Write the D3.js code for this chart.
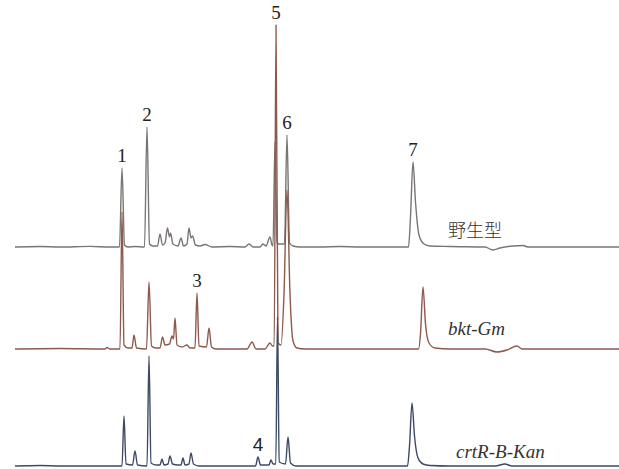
<!DOCTYPE html>
<html>
<head>
<meta charset="utf-8">
<script src="https://cdn.jsdelivr.net/npm/d3@7"></script>
<style>
  body { margin: 0; background: #fff; }
  svg { display: block; }
</style>
</head>
<body>
<div id="chart"></div>
<script>
// retention time (min), signal (mAU)
var wildTypeTrace = [
  [0.5,0],[3,0.5],[5,0],[8,0.6],[10,0],[10.95,0],
  [11.2,79],[11.45,2],[11.8,0],[12.5,0.5],[13.45,0],
  [13.7,120],[13.95,3],[14.3,1],[14.75,1],[15.0,13],[15.25,2],
  [15.5,4],[15.75,19],[15.95,10],[16.05,14],[16.3,3],[16.8,1],
  [17.1,9],[17.35,1],[17.7,3],[17.9,19],[18.1,9],[18.25,11],[18.55,2],
  [19.0,1],[19.5,2.5],[20.2,0],[22,0.5],[23.5,0],[23.9,3],[24.3,0],
  [25,0],[25.3,3],[25.6,1],[26.0,10],[26.2,2],[26.3,1],
  [26.5,105],[26.7,4],[26.9,3],[27.45,3],
  [27.7,112],[27.95,4],[28.3,1],[29,0],[31,0],[33,0.5],[35,0],[39.85,0],
  [40.05,30],[40.3,85],[40.55,45],[40.9,12],[41.4,3],[42,1],[44,0.5],[47.5,0],
  [48.3,-3],[49.0,-1],[50.3,1],[51.3,1.5],[51.8,0],[55,0],[61,0]
];
var bktTrace = [
  [0.5,0],[5,0.5],[9.5,0],[9.7,1.5],[10,0],[11.0,0],
  [11.2,137],[11.4,4],[11.8,1],[12.2,1],[12.4,14],[12.65,1],[13.65,0],
  [13.9,67],[14.15,3],[14.6,1],[15.0,1],[15.25,12],[15.5,4],
  [15.95,5],[16.2,13],[16.35,10],[16.5,31],[16.7,4],[17.2,2],[17.7,4],[18.0,1],[18.5,1],
  [18.7,56],[18.9,3],[19.65,2],[19.9,21],[20.15,2],[20.6,0],[23.7,0],
  [24.2,7],[24.6,0],[25.5,0],[26.0,6],[26.25,3],[26.42,3],
  [26.6,324],[26.8,6],[27.1,4],[27.4,55],
  [27.7,159],[28.0,55],[28.3,8],[28.7,1],[29.5,0],[33,0],[37,0],[40.85,0],
  [41.05,15],[41.3,62],[41.55,25],[41.9,6],[42.5,1],[44,0],[47.5,0],
  [48.7,-3],[49.7,-1],[50.7,3],[51.2,0],[55,0],[61,0]
];
var crtTrace = [
  [0.5,0],[3,0.5],[5,0],[8.5,0],[11.2,0],
  [11.4,50],[11.6,2],[12.25,1],[12.5,15],[12.75,1],[13.7,0],
  [13.9,110],[14.1,3],[14.6,1],[15.0,1],[15.2,7],[15.4,1],
  [15.8,2],[16.0,10],[16.25,2],[16.8,1],[17.1,1],[17.3,8],[17.5,1],
  [17.9,2],[18.1,13],[18.35,2],[18.9,0],[22,0],[24.55,0],
  [24.8,9],[25.05,1],[25.9,1],[26.1,6],[26.3,2],[26.58,2],
  [26.75,149],[26.92,4],[27.55,2],[27.8,29],[28.05,3],[28.6,0],[36,0],[39.75,0],
  [39.95,20],[40.2,63],[40.45,30],[40.8,8],[41.3,2],[42,0.5],[44,0],[48.5,0],
  [49.5,2],[50.2,0],[55,0],[61,0]
];

var seriesNames = ["野生型", "bkt-Gm", "crtR-B-Kan"];
var seriesOffsets = [219, 117, 0];   // vertical stacking of the traces (mAU)
var seriesColors = ["#7a7572", "#8c5a4c", "#3d4966"];

// peak numbers: label, retention time, which trace carries it
var peakLabels = ["1", "2", "3", "4", "5", "6", "7"];
var peakTimes = [11.2, 13.7, 18.7, 24.8, 26.6, 27.7, 40.3];
var peakTrace = [0, 0, 1, 2, 1, 0, 0];

var width = 619
var height = 469

var x = d3.scaleLinear().domain([0, 61]).range([10, 620])
var y = d3.scaleLinear().domain([0, 450]).range([466, 16])

var svg = d3.select("#chart")
  .append("svg")
    .attr("width", width)
    .attr("height", height)

var traces = [wildTypeTrace, bktTrace, crtTrace]

var line = d3.line().curve(d3.curveMonotoneX)

// gray first, then brown, blue on top
traces.forEach(function(tr, i) {
  line.x(function(d) { return x(d[0]) })
      .y(function(d) { return y(d[1] + seriesOffsets[i]) })
  svg.append("path")
    .datum(tr)
    .attr("d", line)
    .attr("fill", "none")
    .attr("stroke", seriesColors[i])
    .attr("stroke-width", 1.4)
    .attr("stroke-linejoin", "round")
})

function valueAt(tr, t) {
  var best = tr[0]
  tr.forEach(function(d) { if (Math.abs(d[0] - t) < Math.abs(best[0] - t)) best = d })
  return best[1]
}

svg.selectAll(".peak")
  .data(peakLabels)
  .enter()
  .append("text")
    .attr("class", "peak")
    .attr("x", function(d, i) { return x(peakTimes[i]) })
    .attr("y", function(d, i) {
      var k = peakTrace[i]
      return y(valueAt(traces[k], peakTimes[i]) + seriesOffsets[k]) - 6
    })
    .attr("text-anchor", "middle")
    .style("font-family", function(d) { return d === "4" ? "'Liberation Sans', Arial, sans-serif" : "'Liberation Serif', 'Times New Roman', serif" })
    .style("font-size", "19px")
    .attr("fill", "#222")
    .text(function(d) { return d })

// trace names
var nameTimes = [43.8, 43.8, 44.6]
var nameLift = [10, 14, 8]
svg.selectAll(".name")
  .data(seriesNames)
  .enter()
  .append("text")
    .attr("class", "name")
    .attr("x", function(d, i) { return x(nameTimes[i]) })
    .attr("y", function(d, i) { return y(seriesOffsets[i] + nameLift[i]) })
    .style("font-family", function(d, i) { return i === 0 ? "'Noto Sans CJK SC', sans-serif" : "'Liberation Serif', 'Times New Roman', serif" })
    .style("font-style", function(d, i) { return i === 0 ? "normal" : "italic" })
    .style("font-weight", function(d, i) { return i === 0 ? 300 : 400 })
    .style("font-size", function(d, i) { return i === 0 ? "18px" : "19px" })
    .attr("fill", "#333")
    .text(function(d) { return d })
</script>
</body>
</html>
